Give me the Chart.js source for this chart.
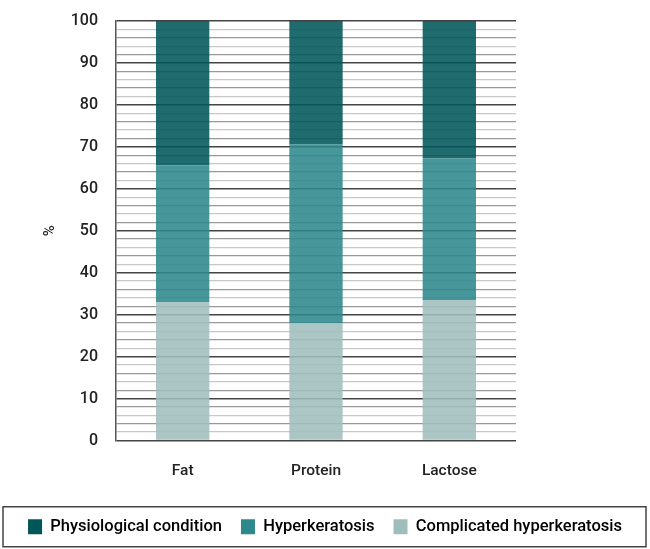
<!DOCTYPE html>
<html>
<head>
<meta charset="utf-8">
<script src="https://cdn.jsdelivr.net/npm/chart.js@4/dist/chart.umd.min.js"></script>
<style>
  body { margin: 0; background: #fff; }
  #wrap { width: 650px; height: 549px; position: relative; }
</style>
</head>
<body>
<div id="wrap"><canvas id="milk_chart"></canvas></div>
<script>
// chart data
const categories = ['Fat', 'Protein', 'Lactose'];
const complicated = [33, 28, 33.5];
const hyper = [32.6, 42.6, 33.7];
const physiological = [34.4, 29.4, 32.8];
const seriesNames = ['Physiological condition', 'Hyperkeratosis', 'Complicated hyperkeratosis'];

const milk_chart = document.getElementById('milk_chart');

// draws the frame round the legend
const legendFrame = {
  id: 'legendFrame',
  afterDraw(chart) {
    const lg = chart.legend;
    const ctx = chart.ctx;
    const mid = (lg.legendHitBoxes[0].top + lg.legendHitBoxes[0].height / 2);
    ctx.save();
    ctx.strokeStyle = '#444';
    ctx.lineWidth = 1.5;
    ctx.strokeRect(3, mid - 20, 643, 40);
    ctx.restore();
  }
};

new Chart(milk_chart, {
  type: 'bar',
  data: {
    labels: categories,
    datasets: [
      {
        label: seriesNames[2],
        data: complicated,
        backgroundColor: 'rgba(160,189,189,0.88)'
      },
      {
        label: seriesNames[1],
        data: hyper,
        backgroundColor: 'rgba(45,137,140,0.88)'
      },
      {
        label: seriesNames[0],
        data: physiological,
        backgroundColor: 'rgba(0,87,90,0.88)'
      }
    ]
  },
  options: {
    responsive: true,
    maintainAspectRatio: false,
    animation: false,
    layout: { padding: { left: 0, right: 0, top: 21, bottom: 4 } },
    datasets: { bar: { categoryPercentage: 1, barPercentage: 0.4 } },
    scales: {
      x: {
        stacked: true,
        grid: { display: false },
        border: { display: false },
        afterFit: s => { s.height = 59; },
        ticks: {
          color: '#222',
          padding: 13,
          font: { family: 'Roboto', size: 15.5, weight: 500 }
        }
      },
      y: {
        stacked: true,
        min: 0,
        max: 100,
        afterFit: s => { s.width = 116; s.paddingTop = 0; s.paddingBottom = 0; },
        border: { display: true, color: '#555', width: 1.5 },
        grid: {
          drawTicks: false,
          color: ctx => {
            const v = ctx.tick.value;
            if (v % 10 === 0) return '#444';
            return (v / 2) % 2 === 1 ? '#c8c8c8' : '#999';
          },
          lineWidth: ctx => (ctx.tick.value % 10 === 0 ? 1.5 : 1.3)
        },
        ticks: {
          stepSize: 2,
          autoSkip: false,
          padding: 18,
          color: '#222',
          font: { family: 'Roboto', size: 16, weight: 500 },
          callback: v => (v % 10 === 0 ? v : '')
        },
        title: {
          display: true,
          text: '%',
          color: '#222',
          padding: { top: 41, bottom: 0 },
          font: { family: 'Roboto', size: 15, weight: 500 }
        }
      },
      // empty axis on the right keeps the plot narrow
      spacer: {
        position: 'right',
        display: true,
        grid: { display: false },
        border: { display: false },
        ticks: { display: false },
        afterFit: s => { s.width = 134; s.paddingTop = 0; s.paddingBottom = 0; }
      }
    },
    plugins: {
      tooltip: { enabled: false },
      legend: {
        position: 'bottom',
        reverse: true,
        labels: {
          color: '#222',
          boxWidth: 14,
          boxHeight: 15,
          padding: 19,
          font: { family: 'Roboto', size: 16.5, weight: 500 },
          generateLabels: chart => chart.data.datasets.map((ds, i) => ({
            text: ds.label,
            fillStyle: ds.backgroundColor.replace('0.88', '1'),
            strokeStyle: 'transparent',
            lineWidth: 0,
            datasetIndex: i
          }))
        }
      }
    }
  },
  plugins: [legendFrame]
});
</script>
</body>
</html>
